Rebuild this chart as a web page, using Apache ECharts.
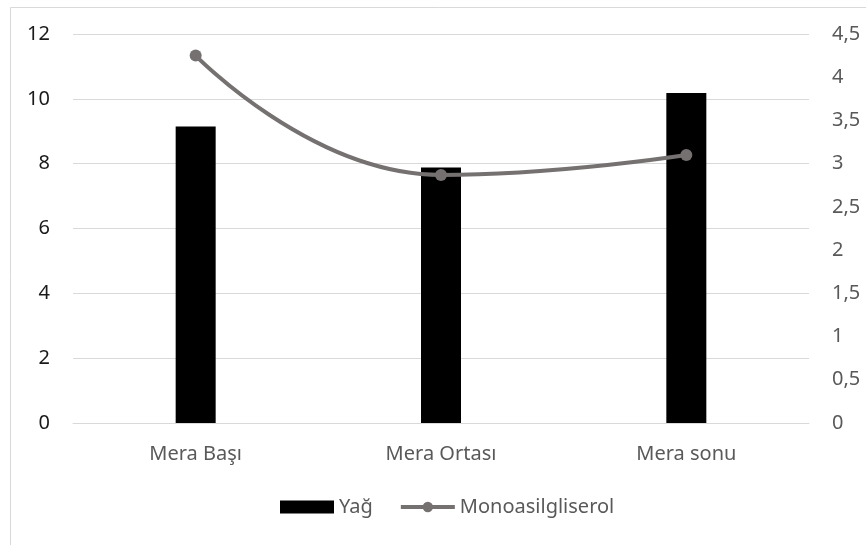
<!DOCTYPE html>
<html>
<head>
<meta charset="utf-8">
<script src="https://cdn.jsdelivr.net/npm/echarts@6/dist/echarts.min.js"></script>
<style>html,body{margin:0;padding:0;background:#fff;}#c{width:866px;height:545px;}</style>
</head>
<body>
<div id="c"></div>
<script>
const categories = ['Mera Başı', 'Mera Ortası', 'Mera sonu'];
const yagValues = [9.15, 7.88, 10.18];
const monoValues = [4.25, 2.87, 3.10];
const seriesNames = ['Yağ', 'Monoasilgliserol'];

const chart = echarts.init(document.getElementById('c'), null, {renderer: 'canvas'});
const labelFont = 'Noto Sans, sans-serif';
chart.setOption({
  animation: false,
  backgroundColor: '#fff',
  graphic: [{
    type: 'rect', left: 8, top: 5, shape: {width: 900, height: 600},
    style: {fill: 'none', stroke: '#d9d9d9', lineWidth: 1}, z: -1
  }],
  grid: {left: 73, right: 57, top: 34, bottom: 122, containLabel: false},
  legend: {
    left: 280, top: 497, padding: 0,
    itemWidth: 54, itemHeight: 13, itemGap: 26,
    textStyle: {color: '#595959', fontSize: 20, fontFamily: labelFont},
    lineStyle: {width: 4},
    data: [
      {name: seriesNames[0], icon: 'rect'},
      {name: seriesNames[1], lineStyle: {width: 4, color: '#767171'}, itemStyle: {color: '#767171'}}
    ]
  },
  xAxis: {
    type: 'category', data: categories,
    axisLine: {show: true, lineStyle: {color: '#d9d9d9', width: 1}},
    axisTick: {show: false},
    axisLabel: {color: '#595959', fontSize: 20, fontFamily: labelFont, margin: 21}
  },
  yAxis: [{
    type: 'value', min: 0, max: 12, interval: 2,
    axisLine: {show: false}, axisTick: {show: false},
    splitLine: {lineStyle: {color: '#d9d9d9', width: 1}},
    axisLabel: {color: '#1a1a1a', fontSize: 20, fontFamily: labelFont, margin: 23}
  }, {
    type: 'value', min: 0, max: 4.5, interval: 0.5,
    axisLine: {show: false}, axisTick: {show: false},
    splitLine: {show: false},
    axisLabel: {color: '#595959', fontSize: 20, fontFamily: labelFont, margin: 23,
      formatter: v => String(v).replace('.', ',')}
  }],
  series: [{
    name: seriesNames[0], type: 'bar', data: yagValues, yAxisIndex: 0,
    barWidth: 40, itemStyle: {color: '#000'}
  }, {
    name: seriesNames[1], type: 'line', data: monoValues, yAxisIndex: 1,
    smooth: 0.5, symbol: 'circle', symbolSize: 12,
    lineStyle: {color: '#767171', width: 4},
    itemStyle: {color: '#767171'}
  }]
});
</script>
</body>
</html>
